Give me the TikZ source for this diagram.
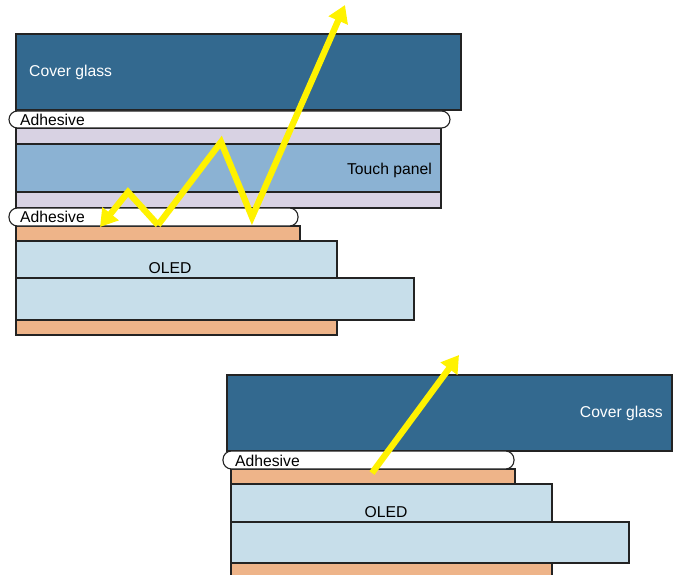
\documentclass[tikz,border=0pt]{standalone}
\usepackage{fontspec}
\setmainfont{Liberation Sans}
\usetikzlibrary{arrows.meta}
\definecolor{cglass}{RGB}{51,105,143}
\definecolor{tpanel}{RGB}{139,178,211}
\definecolor{lav}{RGB}{216,210,227}
\definecolor{oled}{RGB}{199,222,234}
\definecolor{orng}{RGB}{238,180,137}
\definecolor{ray}{RGB}{255,242,0}
\definecolor{edge}{RGB}{35,35,35}
\tikzset{
  layer/.style={draw=edge, line width=1.1pt, anchor=north west, inner sep=0pt, outer sep=0pt},
  adh/.style={layer, fill=white, rounded corners=8.5pt},
  lbl/.style={inner sep=0pt, font=\fontsize{15.7}{18}\selectfont},
  lightray/.style={draw=ray, line width=6.3pt, line join=miter,
     -{Triangle[width=20pt,length=17pt]}},
}
\begin{document}
\begin{tikzpicture}[x=1pt,y=-1pt]
\useasboundingbox (0,0) rectangle (677,575);
% ---------- top stack ----------
\node[layer, fill=cglass, minimum width=445pt, minimum height=76pt] (cg1) at (16,34) {};
\node[lbl, text=white, anchor=west] (cg1t) at (29,72) {Cover glass};
\node[layer, fill=lav, minimum width=425pt, minimum height=16pt] (lav1) at (16,128) {};
\node[layer, fill=tpanel, minimum width=425pt, minimum height=48pt] (tp) at (16,144) {};
\node[layer, fill=lav, minimum width=425pt, minimum height=16pt] (lav2) at (16,192) {};
\node[lbl, anchor=east] (tpt) at (432,170) {Touch panel};
\node[adh, minimum width=441pt, minimum height=17pt] (ad1) at (9,111) {};
\node[lbl, anchor=west] (ad1t) at (20,119.5) {Adhesive};
\node[layer, fill=orng, minimum width=284pt, minimum height=15pt] (or1) at (16,226) {};
\node[adh, minimum width=289pt, minimum height=18pt] (ad2) at (9,208) {};
\node[lbl, anchor=west] (ad2t) at (20,217) {Adhesive};
\node[layer, fill=oled, minimum width=321pt, minimum height=37pt] (ol1) at (16,241) {};
\node[layer, fill=oled, minimum width=398pt, minimum height=42pt] (ol2) at (16,278) {};
\node[layer, fill=orng, minimum width=321pt, minimum height=15pt] (or2) at (16,320) {};
\node[lbl] (ol1t) at (170,268) {OLED};
% ray (top)
\coordinate (r0) at (128,192);
\coordinate (r1) at (158,225);
\coordinate (r2) at (221,142);
\coordinate (r3) at (252,217);
\coordinate (rtop) at (345,5);
\coordinate (rleft) at (100,227);
\draw[lightray] (r1) -- (r0) -- (rleft);
\draw[lightray] (r1) -- (r2) -- (r3) -- (rtop);
% ---------- bottom stack ----------
\node[layer, fill=cglass, minimum width=445pt, minimum height=76pt] (cg2) at (227,375) {};
\node[lbl, text=white, anchor=east] (cg2t) at (663,413) {Cover glass};
\node[layer, fill=orng, minimum width=284pt, minimum height=15pt] (or3) at (231,469) {};
\node[adh, minimum width=291pt, minimum height=18pt] (ad3) at (223,451) {};
\node[lbl, anchor=west] (ad3t) at (235,460.5) {Adhesive};
\node[layer, fill=oled, minimum width=321pt, minimum height=38pt] (ol3) at (231,484) {};
\node[layer, fill=oled, minimum width=398pt, minimum height=41pt] (ol4) at (231,522) {};
\node[layer, fill=orng, minimum width=321pt, minimum height=20pt] (or4) at (231,563) {};
\node[lbl] (ol3t) at (386,512) {OLED};
\coordinate (b0) at (372,473);
\coordinate (b1) at (459,355);
\draw[lightray] (b0) -- (b1);
\end{tikzpicture}
\end{document}
